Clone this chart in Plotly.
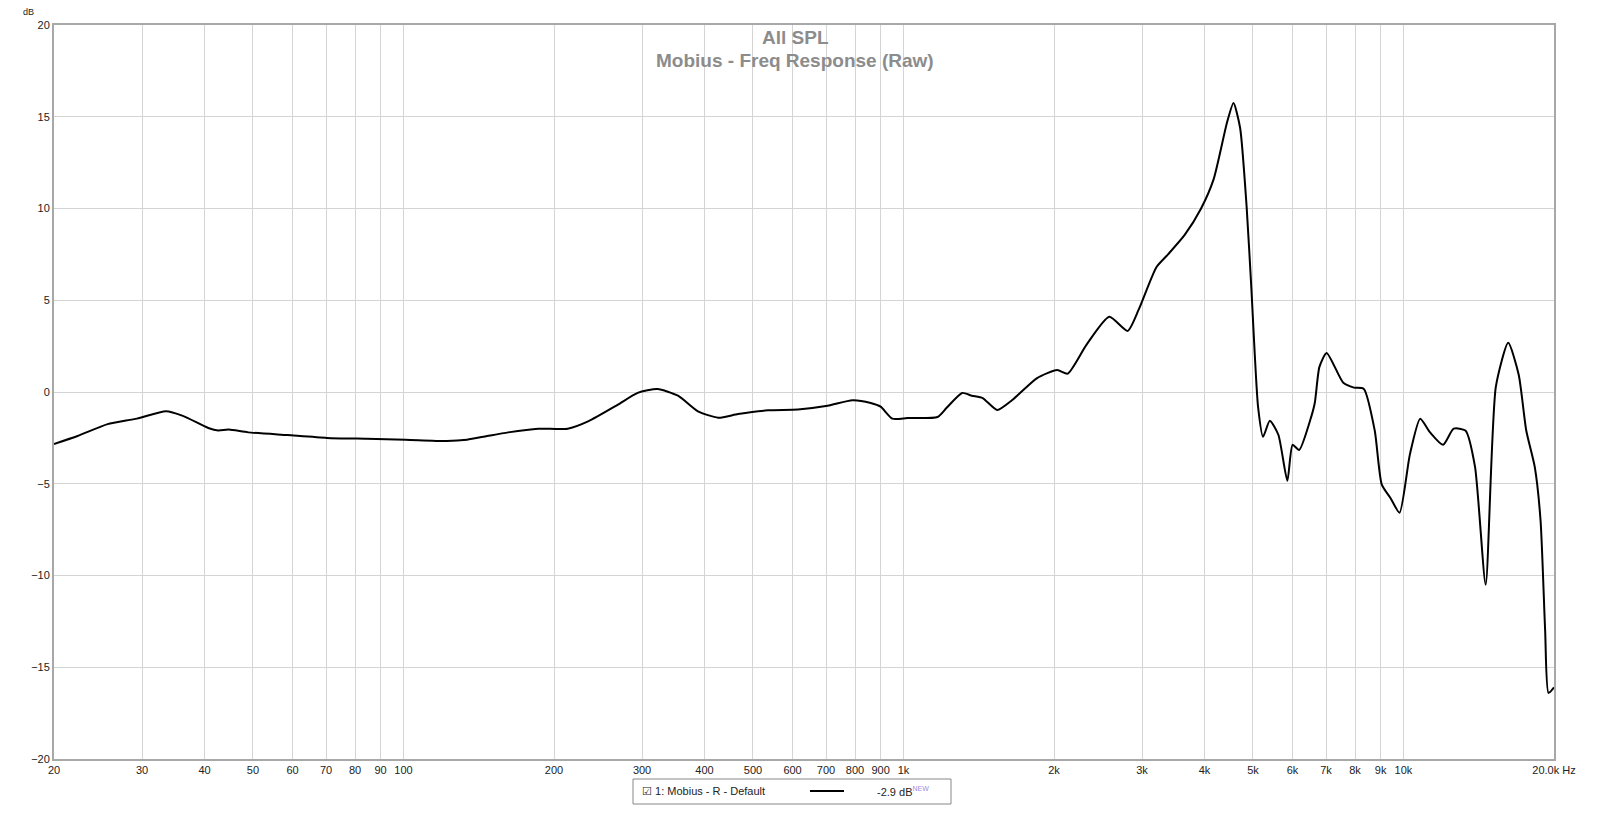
import plotly.graph_objects as go

freq = [20, 22.3, 25.6, 29.3, 33.5, 36.2, 40.7, 42.6, 44.7, 48.9, 58.6, 70.3, 84.3, 101, 122, 134, 147, 162, 186, 213,
        234, 268, 294, 322, 354, 388, 426, 467, 536, 615, 705, 791, 860, 900, 950, 1020, 1170, 1220, 1310, 1370, 1440,
        1540, 1650, 1850, 2030, 2130, 2322, 2580, 2807, 2955, 3205, 3381, 3651, 3937, 4172, 4438, 4571, 4712, 4856,
        4962, 5118, 5238, 5403, 5620, 5858, 6000, 6185, 6502, 6646, 6790, 7020, 7580, 7960, 8330, 8760, 9050, 9430,
        9820, 10300, 10800, 11300, 12000, 12600, 13300, 13900, 14600, 15300, 16200, 17000, 17600, 18300, 18800,
        19200, 19500, 20000]
spl = [-2.83, -2.4, -1.75, -1.45, -1.05, -1.3, -1.96, -2.1, -2.05, -2.2, -2.35, -2.5, -2.55, -2.6, -2.67, -2.6,
       -2.4, -2.2, -2.0, -2.0, -1.6, -0.7, -0.05, 0.16, -0.2, -1.05, -1.4, -1.2, -1.0, -0.95, -0.75, -0.45, -0.6,
       -0.8, -1.45, -1.42, -1.36, -0.86, -0.05, -0.2, -0.33, -0.98, -0.44, 0.76, 1.2, 1.0, 2.57, 4.1, 3.33, 4.5, 6.8,
       7.5, 8.56, 10.0, 11.6, 14.7, 15.75, 14.4, 10.1, 5.7, -0.8, -2.44, -1.57, -2.33, -4.84, -2.88, -3.16, -1.57,
       -0.6, 1.37, 2.13, 0.5, 0.24, 0.17, -2.1, -5.05, -5.8, -6.58, -3.4, -1.46, -2.2, -2.88, -2.0, -2.1, -4.07,
       -10.5, 0.28, 2.68, 0.94, -2.1, -4.07, -7.0, -13.0, -16.4, -16.1]

xtick_vals = [20, 30, 40, 50, 60, 70, 80, 90, 100, 200, 300, 400, 500, 600, 700, 800, 900, 1000,
              2000, 3000, 4000, 5000, 6000, 7000, 8000, 9000, 10000, 20000]
xtick_text = ["20", "30", "40", "50", "60", "70", "80", "90", "100", "200", "300", "400", "500", "600", "700",
              "800", "900", "1k", "2k", "3k", "4k", "5k", "6k", "7k", "8k", "9k", "10k", "20.0k Hz"]
ytick_vals = [-20, -15, -10, -5, 0, 5, 10, 15, 20]

fig = go.Figure()
fig.add_trace(go.Scatter(x=freq, y=spl, mode="lines",
                         line=dict(color="black", width=2, shape="spline", smoothing=0.6),
                         showlegend=False))

fig.update_layout(
    width=1600, height=816,
    margin=dict(l=46, r=54, t=17, b=65, autoexpand=False),
    paper_bgcolor="white", plot_bgcolor="white",
    font=dict(family="Liberation Sans, Arial", size=11, color="#333"),
    xaxis=dict(type="log", range=[1.30103, 4.30103], tickvals=xtick_vals, ticktext=xtick_text,
               showgrid=True, gridcolor="#d4d4d4", gridwidth=1, showline=True, linecolor="#a8a8a8",
               linewidth=2, mirror=True, ticks="", zeroline=False, automargin=False,
               tickfont=dict(size=11, color="#222")),
    yaxis=dict(range=[-20, 20], tickvals=ytick_vals, showgrid=True, gridcolor="#d4d4d4", gridwidth=1,
               showline=True, linecolor="#a8a8a8", linewidth=2, mirror=True, ticks="", zeroline=False,
               automargin=False, tickfont=dict(size=11, color="#222")),
)
fig.add_annotation(text="<b>All SPL</b>", xref="paper", yref="paper", x=0.494, y=1.0, yanchor="top",
                   showarrow=False, font=dict(size=19, color="#8c8c8c"))
fig.add_annotation(text="<b>Mobius - Freq Response (Raw)</b>", xref="paper", yref="paper", x=0.494, y=0.968,
                   yanchor="top", showarrow=False, font=dict(size=19, color="#8c8c8c"))
fig.add_annotation(text="dB", xref="paper", yref="paper", x=-0.022, y=1.008, yanchor="bottom",
                   showarrow=False, font=dict(size=9, color="#222"))
# legend box
fig.add_shape(type="rect", xref="paper", yref="paper", x0=579/1500, x1=897/1500, y0=-45/734, y1=-20/734,
              line=dict(color="#888", width=1), fillcolor="white")
fig.add_annotation(text="☑ 1: Mobius - R - Default", xref="paper", yref="paper", x=586/1500, y=-32.5/734,
                   xanchor="left", yanchor="middle", showarrow=False, font=dict(size=11, color="#222"))
fig.add_shape(type="line", xref="paper", yref="paper", x0=756/1500, x1=790/1500, y0=-32/734, y1=-32/734,
              line=dict(color="black", width=2))
fig.add_annotation(text="-2.9 dB<sup><span style='color:#9a8fe0;font-size:7px'>NEW</span></sup>",
                   xref="paper", yref="paper", x=821/1500, y=-32.5/734, xanchor="left", yanchor="middle",
                   showarrow=False, font=dict(size=11, color="#222"))

fig.write_html("out.html")
